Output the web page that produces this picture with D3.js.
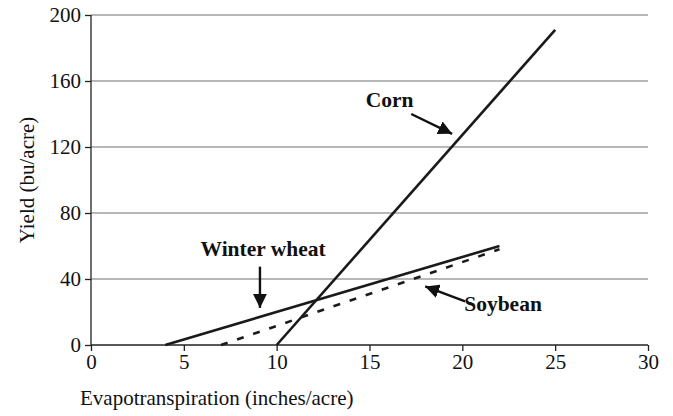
<!DOCTYPE html>
<html><head><meta charset="utf-8">
<script src="https://cdn.jsdelivr.net/npm/d3@7"></script>
<style>body{margin:0;background:#fff}svg{display:block}text{font-family:"Liberation Serif","Times New Roman",serif}</style>
</head><body><svg id="c" width="673" height="416"></svg>
<script>
const xTicks=[0,5,10,15,20,25,30];
const yTicks=[0,40,80,120,160,200];
const cornX=[10,25], cornY=[0,191];
const wheatX=[4,22], wheatY=[0,60];
const soyX=[7,22], soyY=[0,58];
const xTitle="Evapotranspiration (inches/acre)";
const yTitle="Yield (bu/acre)";

const svg=d3.select("#c");
const x=d3.scaleLinear().domain([0,30]).range([91,648]);
const y=d3.scaleLinear().domain([0,200]).range([345,15]);

// gridlines
svg.append("g").selectAll("line").data(yTicks.filter(d=>d>0)).join("line")
 .attr("x1",x(0)).attr("x2",x(30)).attr("y1",d=>y(d)).attr("y2",d=>y(d))
 .attr("stroke","#707070").attr("stroke-width",1.2);

const xa=svg.append("g").attr("transform",`translate(0,${y(0)})`)
 .call(d3.axisBottom(x).tickValues(xTicks).tickSize(6).tickPadding(3));
const ya=svg.append("g").attr("transform",`translate(${x(0)},0)`)
 .call(d3.axisLeft(y).tickValues(yTicks).tickSize(6).tickPadding(4));
[xa,ya].forEach(a=>{a.selectAll("path,line").attr("stroke","#222").attr("stroke-width",1.3);
 a.selectAll("text").attr("font-size",21).attr("fill","#111").attr("font-family","Liberation Serif");});
xa.select(".domain").attr("d",`M${x(0)},0H${x(30)}`);
ya.select(".domain").attr("d",`M0,${y(0)}V${y(200)}`);

const line=d3.line().x(d=>x(d[0])).y(d=>y(d[1]));
function series(xs,ys,dash){
 svg.append("path").datum(xs.map((v,i)=>[v,ys[i]])).attr("d",line)
  .attr("fill","none").attr("stroke","#1a1a1a").attr("stroke-width",2.6)
  .attr("stroke-dasharray",dash||null);
}
series(cornX,cornY);
series(wheatX,wheatY);
series(soyX,soyY,"7,10");

// arrows
const defs=svg.append("defs");
defs.append("marker").attr("id","ah").attr("viewBox","0 0 10 10").attr("refX",10).attr("refY",5)
 .attr("markerWidth",14).attr("markerHeight",14).attr("markerUnits","userSpaceOnUse").attr("orient","auto")
 .append("path").attr("d","M0,0L10,5L0,10Z").attr("fill","#111");
function arrow(x1,y1,x2,y2){
 svg.append("line").attr("x1",x1).attr("y1",y1).attr("x2",x2).attr("y2",y2)
  .attr("stroke","#111").attr("stroke-width",2.4).attr("marker-end","url(#ah)");
}
arrow(x(17.25),y(140),x(19.45),y(128));
arrow(x(9.1),y(47.5),x(9.1),y(22.5));
arrow(x(20.15),y(26.5),x(18),y(35.5));

function label(t,xx,yy){
 svg.append("text").attr("x",xx).attr("y",yy).attr("font-size",21.5).attr("font-weight","bold")
  .attr("fill","#111").text(t);
}
label("Corn",x(14.8),y(144));
label("Winter wheat",x(5.9),y(54));
label("Soybean",x(20.1),y(20.5));

svg.append("text").attr("x",80).attr("y",405).attr("font-size",21).attr("fill","#111").text(xTitle);
svg.append("text").attr("transform","translate(34,180) rotate(-90)").attr("text-anchor","middle")
 .attr("font-size",21).attr("fill","#111").text(yTitle);
</script></body></html>
